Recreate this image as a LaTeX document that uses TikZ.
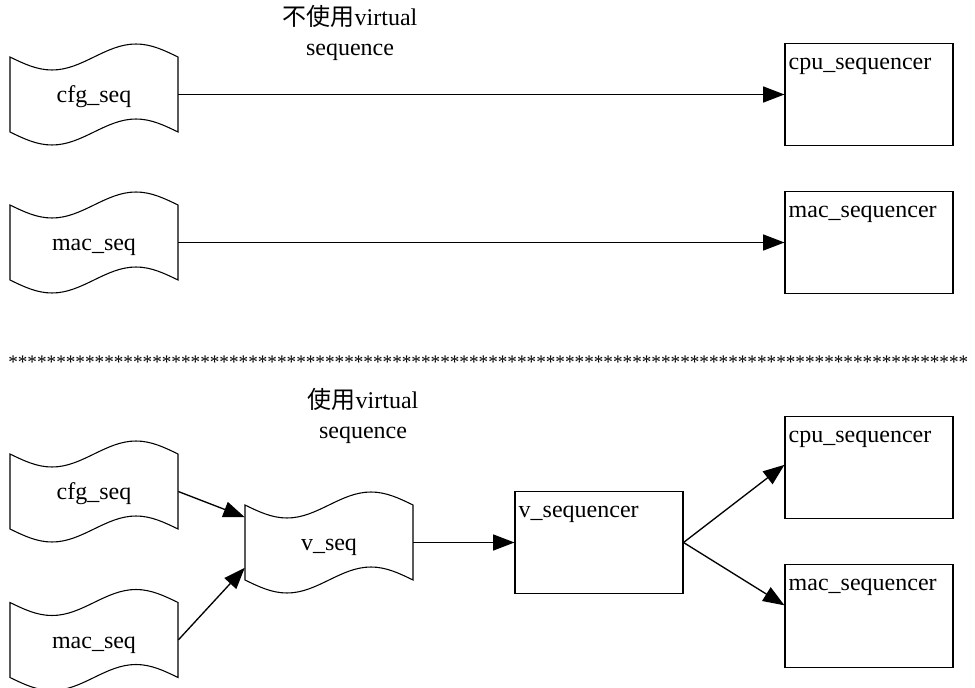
\documentclass[tikz,border=0pt]{standalone}
\usepackage{fontspec}
\setmainfont{Liberation Serif}
\newfontfamily\cjk{Noto Sans CJK SC}
\usetikzlibrary{arrows.meta, calc}

\tikzset{
	seqtape/.style = {rectangle, minimum width=126pt, minimum height=56.25pt, inner sep=0pt, text height=12pt, text depth=0pt},
	seqline/.style = {line width=0.8pt},
	seqrbox/.style = {draw, rectangle, seqline, minimum width=126pt, minimum height=77pt, inner sep=0pt},
	seqlabel/.style = {anchor=base west, inner sep=0pt},
	conn/.style = {line width=1pt, -{Triangle[length=16pt,width=12pt]}},
}
% wavy outline round a seqtape node
\newcommand{\seqwave}[1]{\draw[seqline, shift={(#1.center)}] (-84,-37.5) sin (-42,-24.5) cos (0,-37.5) sin (42,-50.5) cos (84,-37.5) -- (84,37.5) sin (42,24.5) cos (0,37.5) sin (-42,50.5) cos (-84,37.5) -- cycle;}

\begin{document}
\begin{tikzpicture}[x=0.75pt, y=-0.75pt, font=\fontsize{18}{22.5}\selectfont]
			\useasboundingbox (0,0) rectangle (975,688);
			
			% without virtual sequence
			\node[align=center] (title1) at (350,33) {{\cjk 不使用}virtual\\sequence};
			\node[seqtape] (cfg1) at (94,94.5) {cfg\_seq};
			\node[seqtape] (mac1) at (94,242.5) {mac\_seq};
			\seqwave{cfg1}
			\seqwave{mac1}
			\node[seqrbox] (cpu1) at (869,94.5) {};
			\node[seqlabel] (cpu1txt) at ([xshift=3pt,yshift=-20pt]cpu1.north west) {cpu\_sequencer};
			\node[seqrbox] (macq1) at (869,242.5) {};
			\node[seqlabel] (macq1txt) at ([xshift=3pt,yshift=-20pt]macq1.north west) {mac\_sequencer};
			
			\draw[conn] (cfg1.east) -- (cfg1.east -| cpu1.west);
			\draw[conn] (mac1.east) -- (mac1.east -| macq1.west);
			
			\node[anchor=west, inner sep=0pt, font=\fontsize{14.4}{16}\selectfont] (stars) at (8,362) {\foreach \i in {1,...,100}{*}};
			
			% with virtual sequence
			\node[align=center] (title2) at (363,416) {{\cjk 使用}virtual\\sequence};
			\node[seqtape] (cfg2) at (94,491.5) {cfg\_seq};
			\node[seqtape] (mac2) at (94,640) {mac\_seq};
			\node[seqtape] (vseq) at (329,542.5) {v\_seq};
			\seqwave{cfg2}
			\seqwave{mac2}
			\seqwave{vseq}
			\node[seqrbox] (vsqr) at (599,542.5) {};
			\node[seqlabel] (vsqrtxt) at ([xshift=3pt,yshift=-20pt]vsqr.north west) {v\_sequencer};
			\node[seqrbox] (cpu2) at (869,467.5) {};
			\node[seqlabel] (cpu2txt) at ([xshift=3pt,yshift=-20pt]cpu2.north west) {cpu\_sequencer};
			\node[seqrbox] (macq2) at (869,616) {};
			\node[seqlabel] (macq2txt) at ([xshift=3pt,yshift=-20pt]macq2.north west) {mac\_sequencer};
			
			\draw[conn] (cfg2.east) -- ([yshift=19pt]vseq.west);
			\draw[conn] (mac2.east) -- ([yshift=-19pt]vseq.west);
			\draw[conn] (vseq.east) -- (vsqr.west);
			\draw[conn] (vsqr.east) -- ([yshift=2pt]cpu2.west);
			\draw[conn] (vsqr.east) -- ([yshift=8pt]macq2.west);
			
\end{tikzpicture}
\end{document}
